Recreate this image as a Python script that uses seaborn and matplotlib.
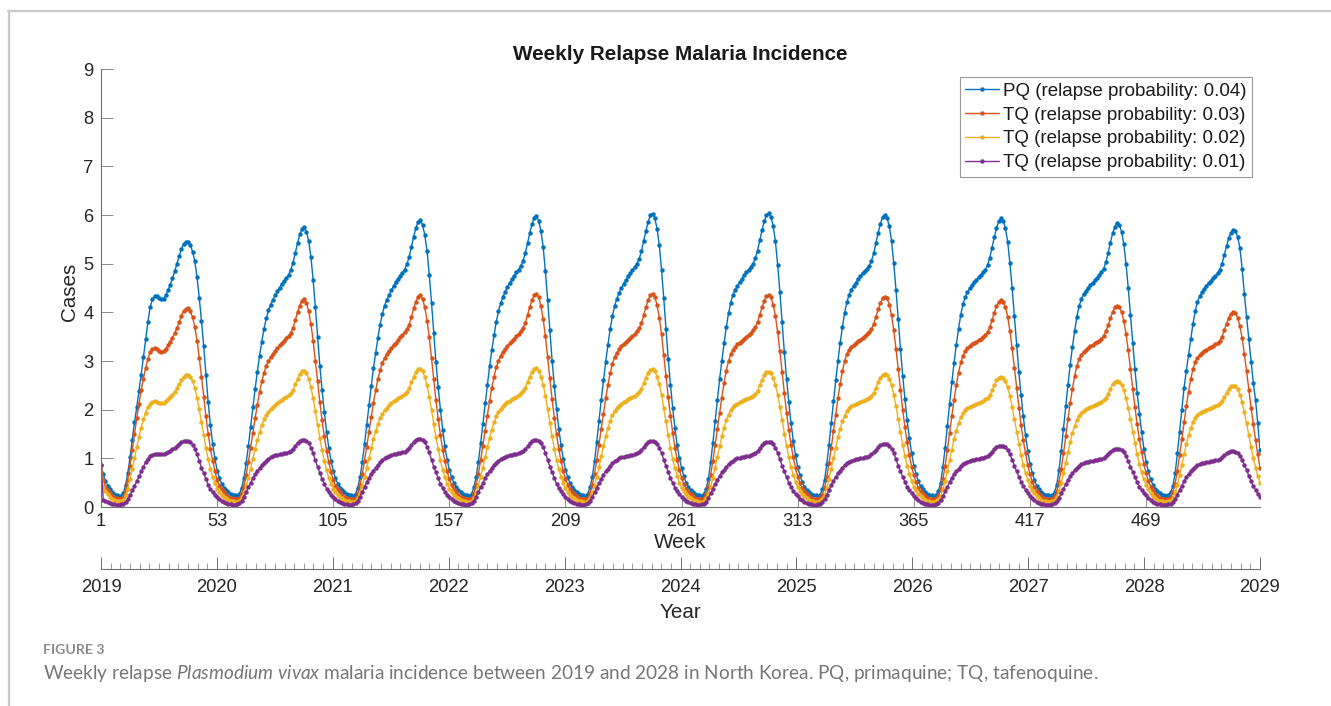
import numpy as np
import matplotlib
matplotlib.use('Agg')
import matplotlib.pyplot as plt
import seaborn as sns
from matplotlib.lines import Line2D

# Weekly relapse cases, one list of 52 weeks per year (2019 ... 2028)
pq_004 = [
    [0.87,0.68,0.54,0.44,0.36,0.30,0.27,0.24,0.23,0.23,0.28,0.45,0.70,1.02,1.38,1.74,2.05,2.38,2.72,3.08,3.45,3.80,4.10,4.27,4.33,4.33,4.30,4.27,4.28,4.35,4.45,4.57,4.70,4.84,5.00,5.15,5.30,5.40,5.45,5.44,5.38,5.25,5.05,4.72,4.30,3.82,3.30,2.72,2.15,1.68,1.30,1.00],
    [0.75,0.60,0.48,0.40,0.34,0.30,0.27,0.25,0.24,0.23,0.27,0.40,0.60,0.90,1.26,1.65,2.05,2.42,2.78,3.10,3.40,3.66,3.88,4.04,4.16,4.26,4.35,4.43,4.51,4.58,4.64,4.70,4.77,4.87,5.02,5.22,5.42,5.60,5.72,5.76,5.66,5.46,5.14,4.66,4.10,3.50,2.90,2.40,1.95,1.55,1.22,0.95],
    [0.74,0.59,0.48,0.40,0.34,0.30,0.27,0.25,0.24,0.23,0.27,0.40,0.61,0.92,1.29,1.69,2.10,2.48,2.85,3.17,3.48,3.75,3.97,4.14,4.26,4.36,4.45,4.54,4.62,4.69,4.75,4.81,4.88,4.99,5.14,5.35,5.55,5.73,5.86,5.90,5.80,5.59,5.26,4.77,4.20,3.58,2.97,2.46,2.00,1.59,1.25,0.97],
    [0.76,0.61,0.49,0.41,0.35,0.30,0.27,0.25,0.24,0.23,0.27,0.41,0.62,0.93,1.31,1.71,2.13,2.51,2.89,3.22,3.53,3.80,4.03,4.19,4.32,4.42,4.52,4.60,4.68,4.75,4.82,4.88,4.95,5.06,5.21,5.42,5.63,5.81,5.94,5.98,5.88,5.67,5.34,4.84,4.26,3.63,3.01,2.49,2.02,1.61,1.27,0.99],
    [0.77,0.61,0.49,0.41,0.35,0.30,0.27,0.25,0.24,0.23,0.27,0.41,0.62,0.94,1.34,1.77,2.20,2.60,2.98,3.33,3.65,3.92,4.13,4.28,4.40,4.50,4.58,4.66,4.74,4.81,4.87,4.93,5.00,5.10,5.26,5.47,5.67,5.86,5.99,6.03,5.93,5.72,5.38,4.88,4.29,3.66,3.04,2.51,2.04,1.62,1.28,1.00],
    [0.80,0.63,0.50,0.42,0.35,0.30,0.27,0.25,0.24,0.23,0.26,0.38,0.58,0.92,1.32,1.76,2.20,2.62,3.00,3.36,3.69,3.98,4.20,4.36,4.46,4.54,4.62,4.69,4.76,4.82,4.88,4.94,5.00,5.11,5.27,5.48,5.69,5.87,6.00,6.04,5.96,5.78,5.46,4.98,4.42,3.80,3.18,2.64,2.15,1.72,1.36,1.06],
    [0.82,0.65,0.51,0.42,0.35,0.31,0.27,0.25,0.24,0.23,0.25,0.36,0.55,0.88,1.28,1.72,2.17,2.60,3.00,3.37,3.70,3.99,4.21,4.36,4.46,4.54,4.61,4.68,4.74,4.80,4.85,4.90,4.96,5.06,5.21,5.42,5.63,5.82,5.96,6.00,5.94,5.77,5.47,5.01,4.46,3.86,3.25,2.70,2.22,1.78,1.41,1.10],
    [0.85,0.67,0.53,0.43,0.36,0.31,0.27,0.25,0.24,0.23,0.24,0.33,0.50,0.82,1.22,1.67,2.12,2.56,2.96,3.33,3.66,3.95,4.17,4.31,4.41,4.49,4.56,4.62,4.67,4.72,4.77,4.82,4.88,4.97,5.12,5.33,5.54,5.73,5.87,5.93,5.88,5.73,5.45,5.02,4.50,3.92,3.32,2.78,2.30,1.86,1.48,1.15],
    [0.89,0.70,0.55,0.44,0.37,0.31,0.27,0.25,0.24,0.23,0.24,0.31,0.46,0.76,1.16,1.61,2.07,2.51,2.92,3.29,3.62,3.91,4.13,4.27,4.37,4.44,4.50,4.56,4.61,4.66,4.71,4.76,4.82,4.90,5.03,5.22,5.43,5.62,5.76,5.83,5.80,5.66,5.40,5.00,4.50,3.94,3.36,2.83,2.35,1.92,1.54,1.20],
    [0.93,0.73,0.57,0.46,0.38,0.32,0.28,0.25,0.24,0.23,0.24,0.30,0.43,0.69,1.10,1.55,2.00,2.45,2.80,3.12,3.45,3.77,4.03,4.22,4.33,4.41,4.48,4.55,4.60,4.65,4.70,4.75,4.80,4.88,5.00,5.18,5.36,5.52,5.64,5.69,5.67,5.55,5.32,4.90,4.38,3.90,3.45,2.98,2.55,2.20,1.72,1.17],
]
tq_003 = [
    [0.87,0.55,0.42,0.34,0.28,0.23,0.20,0.18,0.17,0.17,0.21,0.34,0.56,0.85,1.18,1.50,1.82,2.12,2.40,2.64,2.86,3.04,3.18,3.25,3.26,3.24,3.21,3.19,3.20,3.25,3.32,3.40,3.48,3.57,3.68,3.80,3.93,4.02,4.07,4.08,4.02,3.90,3.70,3.42,3.07,2.68,2.27,1.86,1.50,1.20,0.95,0.74],
    [0.55,0.44,0.36,0.30,0.25,0.21,0.19,0.17,0.16,0.16,0.19,0.28,0.44,0.66,0.93,1.22,1.52,1.82,2.10,2.36,2.58,2.76,2.90,3.00,3.08,3.15,3.21,3.27,3.32,3.37,3.42,3.47,3.52,3.58,3.68,3.84,4.00,4.14,4.24,4.27,4.20,4.02,3.76,3.42,3.00,2.58,2.15,1.78,1.45,1.16,0.92,0.72],
    [0.56,0.44,0.36,0.30,0.25,0.21,0.19,0.17,0.16,0.16,0.19,0.28,0.45,0.67,0.95,1.24,1.55,1.85,2.14,2.40,2.63,2.81,2.96,3.06,3.14,3.21,3.27,3.33,3.38,3.43,3.49,3.54,3.59,3.65,3.75,3.91,4.08,4.22,4.32,4.35,4.28,4.10,3.83,3.49,3.06,2.63,2.19,1.81,1.48,1.18,0.94,0.73],
    [0.57,0.45,0.37,0.30,0.25,0.21,0.19,0.17,0.16,0.16,0.19,0.28,0.45,0.68,0.96,1.26,1.57,1.88,2.18,2.45,2.68,2.87,3.01,3.11,3.19,3.25,3.31,3.36,3.41,3.46,3.51,3.56,3.61,3.68,3.78,3.94,4.11,4.25,4.35,4.38,4.31,4.13,3.86,3.51,3.08,2.65,2.21,1.83,1.49,1.19,0.94,0.74],
    [0.58,0.46,0.37,0.31,0.26,0.22,0.19,0.17,0.16,0.16,0.19,0.28,0.45,0.68,0.97,1.28,1.60,1.92,2.23,2.51,2.75,2.94,3.08,3.17,3.24,3.30,3.35,3.39,3.43,3.47,3.51,3.56,3.61,3.68,3.78,3.94,4.11,4.25,4.35,4.38,4.32,4.15,3.89,3.55,3.13,2.70,2.26,1.87,1.53,1.22,0.97,0.76],
    [0.60,0.47,0.38,0.31,0.26,0.22,0.19,0.17,0.16,0.16,0.18,0.26,0.42,0.66,0.95,1.27,1.60,1.93,2.25,2.55,2.80,3.00,3.14,3.23,3.29,3.34,3.38,3.42,3.46,3.50,3.54,3.58,3.63,3.70,3.80,3.95,4.10,4.24,4.33,4.36,4.31,4.16,3.92,3.60,3.20,2.78,2.34,1.94,1.59,1.28,1.02,0.80],
    [0.62,0.49,0.39,0.32,0.26,0.22,0.19,0.17,0.16,0.16,0.18,0.25,0.39,0.62,0.90,1.22,1.56,1.90,2.23,2.53,2.79,3.00,3.14,3.23,3.29,3.33,3.37,3.41,3.44,3.48,3.51,3.55,3.60,3.66,3.76,3.91,4.06,4.19,4.29,4.32,4.29,4.16,3.94,3.63,3.25,2.83,2.40,2.00,1.64,1.33,1.06,0.83],
    [0.65,0.51,0.40,0.32,0.27,0.22,0.19,0.17,0.16,0.16,0.17,0.23,0.36,0.57,0.85,1.17,1.52,1.87,2.20,2.50,2.76,2.97,3.11,3.20,3.26,3.30,3.34,3.37,3.40,3.43,3.46,3.50,3.54,3.60,3.69,3.84,3.99,4.12,4.22,4.25,4.22,4.11,3.91,3.62,3.26,2.86,2.44,2.04,1.68,1.37,1.10,0.86],
    [0.67,0.52,0.41,0.33,0.27,0.22,0.19,0.17,0.16,0.16,0.17,0.22,0.33,0.52,0.79,1.10,1.45,1.80,2.13,2.43,2.69,2.90,3.04,3.13,3.19,3.23,3.27,3.30,3.33,3.36,3.39,3.42,3.46,3.52,3.61,3.74,3.88,4.01,4.10,4.13,4.11,4.01,3.83,3.56,3.22,2.84,2.43,2.05,1.70,1.39,1.12,0.88],
    [0.69,0.54,0.42,0.34,0.27,0.22,0.19,0.17,0.16,0.16,0.17,0.21,0.31,0.48,0.75,1.06,1.40,1.74,2.07,2.37,2.63,2.84,2.98,3.07,3.13,3.17,3.20,3.23,3.26,3.29,3.31,3.34,3.37,3.42,3.50,3.63,3.77,3.89,3.97,4.00,3.98,3.89,3.72,3.47,3.15,2.79,2.41,2.04,1.70,1.38,1.08,0.81],
]
tq_002 = [
    [0.87,0.42,0.32,0.26,0.21,0.17,0.15,0.13,0.12,0.12,0.15,0.24,0.38,0.57,0.79,1.01,1.23,1.44,1.63,1.80,1.94,2.05,2.12,2.16,2.17,2.16,2.14,2.13,2.14,2.17,2.21,2.26,2.31,2.37,2.44,2.52,2.61,2.68,2.71,2.72,2.68,2.59,2.45,2.25,2.01,1.74,1.47,1.21,0.98,0.78,0.62,0.49],
    [0.38,0.31,0.25,0.21,0.18,0.15,0.13,0.12,0.11,0.11,0.13,0.19,0.29,0.43,0.60,0.79,0.99,1.19,1.37,1.54,1.68,1.80,1.89,1.96,2.01,2.06,2.10,2.14,2.17,2.20,2.23,2.26,2.30,2.34,2.41,2.52,2.63,2.73,2.79,2.80,2.75,2.63,2.46,2.24,1.97,1.69,1.41,1.17,0.95,0.76,0.60,0.47],
    [0.38,0.31,0.25,0.21,0.18,0.15,0.13,0.12,0.11,0.11,0.13,0.19,0.29,0.44,0.61,0.80,1.00,1.21,1.39,1.56,1.70,1.83,1.92,1.99,2.04,2.09,2.13,2.17,2.20,2.23,2.26,2.29,2.33,2.37,2.44,2.56,2.67,2.77,2.83,2.84,2.79,2.67,2.50,2.27,2.00,1.71,1.43,1.19,0.96,0.77,0.61,0.48],
    [0.38,0.31,0.25,0.21,0.18,0.15,0.13,0.12,0.11,0.11,0.13,0.19,0.29,0.44,0.62,0.81,1.02,1.23,1.42,1.59,1.74,1.86,1.95,2.02,2.07,2.11,2.15,2.18,2.21,2.24,2.27,2.30,2.34,2.38,2.45,2.57,2.68,2.78,2.84,2.85,2.80,2.68,2.51,2.29,2.02,1.73,1.45,1.20,0.97,0.78,0.62,0.49],
    [0.39,0.31,0.25,0.21,0.18,0.15,0.13,0.12,0.11,0.11,0.13,0.19,0.29,0.44,0.62,0.82,1.04,1.25,1.45,1.62,1.77,1.89,1.98,2.04,2.08,2.12,2.15,2.18,2.21,2.23,2.26,2.29,2.32,2.36,2.43,2.54,2.66,2.76,2.82,2.83,2.79,2.68,2.52,2.31,2.04,1.76,1.48,1.22,0.99,0.80,0.64,0.50],
    [0.40,0.32,0.26,0.21,0.18,0.15,0.13,0.12,0.11,0.11,0.12,0.18,0.27,0.42,0.60,0.81,1.03,1.25,1.45,1.63,1.78,1.90,1.99,2.05,2.09,2.12,2.15,2.17,2.19,2.21,2.24,2.26,2.29,2.33,2.39,2.50,2.61,2.71,2.77,2.78,2.75,2.66,2.51,2.31,2.06,1.79,1.51,1.25,1.02,0.82,0.66,0.52],
    [0.41,0.33,0.26,0.22,0.18,0.15,0.13,0.12,0.11,0.11,0.12,0.17,0.25,0.39,0.57,0.78,1.00,1.22,1.43,1.61,1.76,1.88,1.97,2.03,2.07,2.10,2.12,2.14,2.16,2.18,2.20,2.22,2.25,2.29,2.35,2.45,2.56,2.66,2.72,2.73,2.71,2.63,2.50,2.31,2.07,1.81,1.54,1.28,1.05,0.85,0.68,0.54],
    [0.42,0.34,0.27,0.22,0.18,0.15,0.13,0.12,0.11,0.11,0.12,0.16,0.23,0.36,0.53,0.74,0.96,1.18,1.39,1.57,1.72,1.84,1.93,1.99,2.03,2.06,2.08,2.10,2.12,2.14,2.16,2.18,2.21,2.25,2.30,2.40,2.50,2.60,2.66,2.67,2.65,2.58,2.46,2.28,2.06,1.81,1.55,1.30,1.07,0.87,0.70,0.56],
    [0.43,0.35,0.28,0.22,0.18,0.15,0.13,0.12,0.11,0.11,0.12,0.15,0.21,0.33,0.49,0.69,0.91,1.13,1.34,1.52,1.67,1.79,1.88,1.94,1.98,2.01,2.03,2.05,2.07,2.09,2.11,2.13,2.16,2.19,2.24,2.33,2.43,2.52,2.57,2.58,2.57,2.51,2.40,2.24,2.04,1.80,1.55,1.31,1.08,0.88,0.71,0.57],
    [0.45,0.36,0.28,0.23,0.19,0.15,0.13,0.12,0.11,0.11,0.12,0.14,0.19,0.30,0.46,0.65,0.86,1.08,1.29,1.47,1.62,1.74,1.83,1.89,1.93,1.96,1.98,2.00,2.02,2.04,2.06,2.08,2.10,2.13,2.18,2.26,2.35,2.43,2.48,2.49,2.48,2.42,2.31,2.15,1.95,1.72,1.47,1.23,1.00,0.81,0.64,0.50],
]
tq_001 = [
    [0.87,0.15,0.12,0.10,0.08,0.07,0.06,0.05,0.05,0.06,0.07,0.10,0.16,0.25,0.34,0.43,0.53,0.63,0.73,0.83,0.92,0.99,1.04,1.07,1.09,1.09,1.08,1.08,1.09,1.11,1.13,1.16,1.19,1.22,1.26,1.30,1.33,1.35,1.36,1.35,1.33,1.28,1.20,1.08,0.95,0.81,0.69,0.57,0.46,0.37,0.30,0.24],
    [0.20,0.16,0.13,0.10,0.08,0.07,0.06,0.05,0.05,0.06,0.08,0.13,0.21,0.31,0.41,0.50,0.59,0.67,0.74,0.80,0.86,0.91,0.95,0.99,1.02,1.04,1.06,1.07,1.08,1.09,1.10,1.11,1.13,1.16,1.20,1.26,1.32,1.36,1.38,1.38,1.36,1.31,1.22,1.10,0.96,0.82,0.70,0.58,0.47,0.38,0.31,0.25],
    [0.20,0.16,0.13,0.10,0.08,0.07,0.06,0.05,0.05,0.06,0.08,0.13,0.21,0.31,0.41,0.51,0.60,0.68,0.75,0.81,0.87,0.92,0.96,1.00,1.03,1.05,1.07,1.08,1.09,1.10,1.11,1.12,1.14,1.17,1.22,1.28,1.34,1.38,1.40,1.40,1.38,1.33,1.24,1.12,0.97,0.83,0.71,0.59,0.48,0.39,0.31,0.25],
    [0.20,0.16,0.13,0.10,0.08,0.07,0.06,0.05,0.05,0.06,0.08,0.13,0.21,0.31,0.41,0.50,0.59,0.67,0.74,0.80,0.86,0.91,0.95,0.98,1.01,1.03,1.05,1.06,1.07,1.08,1.09,1.10,1.12,1.15,1.19,1.25,1.31,1.35,1.38,1.38,1.36,1.31,1.23,1.11,0.97,0.83,0.71,0.59,0.48,0.39,0.32,0.26],
    [0.21,0.17,0.13,0.10,0.08,0.07,0.06,0.05,0.05,0.06,0.08,0.12,0.20,0.30,0.40,0.49,0.58,0.66,0.73,0.79,0.85,0.90,0.94,0.97,1.00,1.02,1.03,1.04,1.05,1.06,1.07,1.08,1.10,1.13,1.17,1.23,1.29,1.33,1.36,1.36,1.34,1.30,1.22,1.11,0.97,0.84,0.72,0.60,0.49,0.40,0.32,0.26],
    [0.21,0.17,0.13,0.10,0.08,0.07,0.06,0.05,0.05,0.06,0.07,0.11,0.18,0.28,0.38,0.47,0.56,0.64,0.71,0.77,0.83,0.88,0.92,0.95,0.98,1.00,1.01,1.02,1.03,1.04,1.05,1.06,1.08,1.11,1.15,1.21,1.27,1.31,1.34,1.34,1.33,1.29,1.22,1.11,0.98,0.85,0.73,0.61,0.50,0.41,0.33,0.27],
    [0.22,0.17,0.14,0.11,0.08,0.07,0.06,0.05,0.05,0.06,0.07,0.10,0.16,0.25,0.35,0.45,0.54,0.62,0.69,0.75,0.81,0.86,0.90,0.93,0.95,0.97,0.98,0.99,1.00,1.01,1.02,1.03,1.05,1.08,1.12,1.17,1.23,1.27,1.30,1.30,1.29,1.26,1.20,1.10,0.98,0.85,0.73,0.62,0.51,0.42,0.34,0.28],
    [0.23,0.18,0.14,0.11,0.08,0.07,0.06,0.05,0.05,0.05,0.06,0.09,0.14,0.22,0.32,0.42,0.51,0.60,0.67,0.73,0.79,0.84,0.88,0.91,0.93,0.95,0.96,0.97,0.98,0.99,1.00,1.01,1.02,1.05,1.09,1.14,1.19,1.23,1.26,1.26,1.25,1.23,1.17,1.08,0.97,0.85,0.73,0.62,0.52,0.43,0.35,0.29],
    [0.23,0.18,0.14,0.11,0.09,0.07,0.06,0.05,0.05,0.05,0.06,0.08,0.12,0.19,0.28,0.38,0.47,0.56,0.63,0.70,0.76,0.81,0.85,0.88,0.90,0.92,0.93,0.94,0.95,0.96,0.97,0.98,0.99,1.01,1.04,1.09,1.14,1.18,1.20,1.20,1.19,1.17,1.12,1.04,0.94,0.83,0.72,0.61,0.51,0.42,0.35,0.29],
    [0.24,0.19,0.15,0.11,0.09,0.07,0.06,0.05,0.05,0.05,0.06,0.07,0.11,0.17,0.25,0.35,0.44,0.53,0.61,0.68,0.74,0.79,0.83,0.86,0.88,0.90,0.91,0.92,0.93,0.94,0.95,0.96,0.97,0.99,1.02,1.06,1.10,1.13,1.15,1.15,1.14,1.11,1.05,0.97,0.87,0.76,0.64,0.53,0.43,0.35,0.27,0.21],
]

series_labels = ['PQ (relapse probability: 0.04)', 'TQ (relapse probability: 0.03)',
                 'TQ (relapse probability: 0.02)', 'TQ (relapse probability: 0.01)']
week_ticks = [1, 53, 105, 157, 209, 261, 313, 365, 417, 469]
years = list(range(2019, 2030))
colors = ['#0072BD', '#D95319', '#EDB120', '#7E2F8E']

for s in (pq_004, tq_003, tq_002, tq_001):
    assert all(len(y) == 52 for y in s), [len(y) for y in s]

W, H = 1331, 706
def fx(px): return px / W
def fy(py): return 1 - py / H

sns.set_style('white')
plt.rcParams['font.family'] = ['Liberation Sans', 'DejaVu Sans']
plt.rcParams['mathtext.fontset'] = 'custom'
plt.rcParams['mathtext.rm'] = 'Lato'
plt.rcParams['mathtext.it'] = 'Lato:italic'

fig = plt.figure(figsize=(W / 100, H / 100), dpi=100)
fig.patch.set_facecolor('white')

# gray page frame
fig.add_artist(Line2D([fx(8), 1], [fy(10.5), fy(10.5)], transform=fig.transFigure, color='#c8c8c8', lw=1.6))
fig.add_artist(Line2D([fx(8.5), fx(8.5)], [0, fy(10.5)], transform=fig.transFigure, color='#c8c8c8', lw=1.6))

ax = fig.add_axes([fx(101), fy(507), (1260 - 101) / W, (507 - 69) / H])
for vals, lab, col in zip((pq_004, tq_003, tq_002, tq_001), series_labels, colors):
    y = np.concatenate(vals)
    weeks = np.arange(1, len(y) + 1)
    sns.lineplot(x=weeks, y=y, ax=ax, color=col, label=lab, linewidth=1.0,
                 marker='o', markersize=3.2, markeredgewidth=0, markeredgecolor=col)

ax.set_xlim(1, 520)
ax.set_ylim(0, 9)
ax.set_xticks(week_ticks)
ax.set_yticks(range(10))
for side in ('top', 'right'):
    ax.spines[side].set_visible(False)
for side in ('left', 'bottom'):
    ax.spines[side].set_color('#707070')
    ax.spines[side].set_linewidth(0.8)
ax.tick_params(bottom=True, left=True, direction='in', length=8.4, width=0.7, color='#8a8a8a',
               labelsize=13.2, labelcolor='#262626')
ax.tick_params(axis='y', pad=5.5)
ax.tick_params(axis='x', pad=4.5)
ax.set_xlabel('')
ax.set_ylabel('')
ax.grid(False)

leg = ax.legend(loc='upper right', bbox_to_anchor=(0.993, 0.982), frameon=True, fancybox=False,
                fontsize=13.5, handlelength=1.8, handletextpad=0.2, borderpad=0.3,
                labelspacing=0.36, borderaxespad=0, framealpha=1)
leg.get_frame().set_edgecolor('#9a9a9a')
leg.get_frame().set_linewidth(0.8)
for t in leg.get_texts():
    t.set_color('#1a1a1a')

fig.text(fx(680), fy(54), 'Weekly Relapse Malaria Incidence', ha='center', va='center',
         fontsize=14.9, fontweight='bold', color='#1a1a1a')
fig.text(fx(70), fy(292), 'Cases', ha='center', va='center', rotation=90, fontsize=14.9, color='#262626')
fig.text(fx(680), fy(543), 'Week', ha='center', va='center', fontsize=14.9, color='#262626')

# calendar axis below
ax2 = fig.add_axes([fx(101), fy(569), (1260 - 101) / W, 0.0001])
ax2.patch.set_visible(False)
ax2.set_xlim(2019, 2029)
ax2.set_xticks(years)
ax2.set_xticks([yr + m / 12 for yr in years[:-1] for m in range(1, 12)], minor=True)
ax2.set_yticks([])
for side in ('top', 'left', 'right'):
    ax2.spines[side].set_visible(False)
ax2.spines['bottom'].set_color('#707070')
ax2.spines['bottom'].set_linewidth(0.8)
ax2.tick_params(axis='x', which='major', bottom=True, direction='in', length=8.4, width=0.7,
                color='#707070', labelsize=13.2, labelcolor='#262626', pad=7)
ax2.tick_params(axis='x', which='minor', bottom=True, direction='in', length=4.3, width=0.6,
                color='#8a8a8a')
fig.text(fx(680), fy(612), 'Year', ha='center', va='center', fontsize=14.9, color='#262626')

# caption
fig_lab = fig.text(fx(43), fy(650), 'FIGURE 3', ha='left', va='center', fontsize=9.5,
                   fontweight='bold', color='#8c8c8c', family=['Lato', 'DejaVu Sans'])
cap = fig.text(fx(43), fy(673), r'Weekly relapse $\mathit{Plasmodium\ vivax}$ malaria incidence between 2019 and 2028 '
               'in North Korea. PQ, primaquine; TQ, tafenoquine.', ha='left', va='center',
               fontsize=12, color='#767676', family=['Lato', 'DejaVu Sans'])
fig.canvas.draw()
r = fig.canvas.get_renderer()
cap.set_fontsize(cap.get_fontsize() * (1095 - 43) / cap.get_window_extent(r).width)
fig_lab.set_fontsize(fig_lab.get_fontsize() * (105 - 43) / fig_lab.get_window_extent(r).width)

fig.savefig('out.png', dpi=100, facecolor='white')
